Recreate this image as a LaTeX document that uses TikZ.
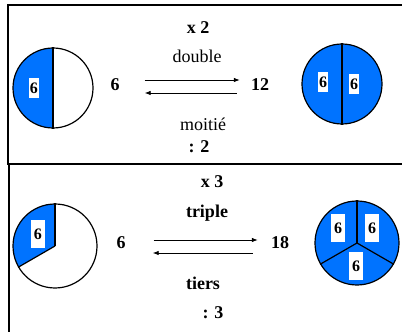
\documentclass[tikz,border=0pt]{standalone}
\usepackage{fontspec}
\setmainfont{Liberation Serif}
\usepackage{tikz}
\usetikzlibrary{positioning,arrows.meta}
\definecolor{partblue}{RGB}{0,115,255}

\tikzset{
  num/.style={font=\fontsize{18}{20}\selectfont\bfseries, inner sep=2pt},
  word/.style={font=\fontsize{18}{20}\selectfont, inner sep=2pt},
  sixbox/.style={fill=white, inner sep=0pt, minimum width=10pt, minimum height=20pt,
    font=\fontsize{16}{18}\selectfont\bfseries},
  bigbox/.style={sixbox, minimum width=14pt, minimum height=28pt},
  pie/.style={draw, circle, line width=1.2pt, inner sep=0pt},
  frame/.style={draw, line width=1.5pt},
  link/.style={-{Latex[length=6pt,width=4.5pt]}, line width=0.8pt},
}

\begin{document}
\begin{tikzpicture}[x=1pt,y=1pt]
    \useasboundingbox (0,0) rectangle (402,332);
    \draw[frame] (402,327) -- (8,327) -- (8,168) -- (402,168);
    \draw[frame] (9,168) -- (9,0);

    % double / moitie
    \fill[partblue] (53,244) -- ++(90:40) arc[start angle=90, end angle=270, radius=40] -- cycle;
    \node(half) [pie, minimum size=80pt] at (53,244) {};
    \draw[line width=1.2pt] (half.center) -- (half.north);
    \draw[line width=1.2pt] (half.center) -- (half.south);
    \node(sixA) [sixbox] at (34,244) {6};

    \fill[partblue] (342,248) circle[radius=40];
    \node(whole) [pie, minimum size=80pt] at (342,248) {};
    \draw[line width=1.2pt] (whole.north) -- (whole.south);
    \node(sixB) [sixbox] at (323,250) {6};
    \node(sixC) [sixbox] at (354,248) {6};

    \node(six) [num] at (115,247) {6};
    \node(twelve) [num] at (260,247) {12};
    \draw[link, shorten <=23pt, shorten >=9pt] ([yshift=5pt]six.east) -- ([yshift=5pt]twelve.west);
    \draw[link, shorten <=12pt, shorten >=23pt] ([yshift=-8pt]twelve.west) -- ([yshift=-8pt]six.east);

    \node(times2) [num] at (198,304) {x 2};
    \node(double) [word] at (197,276) {double};
    \node(moitie) [word] at (203,208) {moitié};
    \node(div2) [num] at (199,185) {: 2};

    % triple / tiers
    \fill[partblue] (55,86) -- ++(90:42) arc[start angle=90, end angle=210, radius=42] -- cycle;
    \node(third) [pie, minimum size=84pt] at (55,86) {};
    \draw[line width=1.2pt] (third.center) -- (third.90);
    \draw[line width=1.2pt] (third.center) -- (third.210);
    \node(sixD) [bigbox] at (38,98) {6};

    \fill[partblue] (357,89) circle[radius=42];
    \node(thirds) [pie, minimum size=84pt] at (357,89) {};
    \draw[line width=1.2pt] (thirds.center) -- (thirds.90);
    \draw[line width=1.2pt] (thirds.center) -- (thirds.210);
    \draw[line width=1.2pt] (thirds.center) -- (thirds.330);
    \node(sixE) [bigbox] at (338,104) {6};
    \node(sixF) [bigbox] at (372,104) {6};
    \node(sixG) [bigbox] at (356,66) {6};

    \node(sixH) [num] at (121,89) {6};
    \node(eighteen) [num] at (280,89) {18};
    \draw[link, shorten <=26pt, shorten >=11pt] ([yshift=3pt]sixH.east) -- ([yshift=3pt]eighteen.west);
    \draw[link, shorten <=16pt, shorten >=25pt] ([yshift=-10pt]eighteen.west) -- ([yshift=-10pt]sixH.east);

    \node(times3) [num] at (212,150) {x 3};
    \node(triple) [num] at (207,119) {triple};
    \node(tiers) [num] at (203,49) {tiers};
    \node(div3) [num] at (213,19) {: 3};
\end{tikzpicture}
\end{document}
